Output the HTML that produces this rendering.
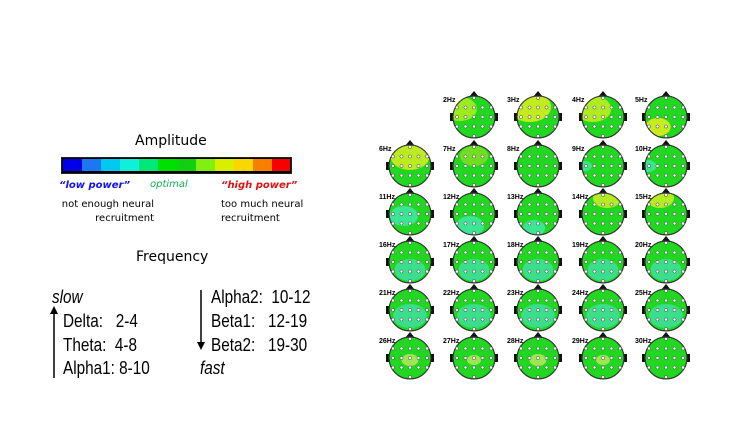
<!DOCTYPE html>
<html><head><meta charset="utf-8"><style>
body{margin:0;width:750px;height:422px;background:#fff;overflow:hidden;position:relative;font-family:"Liberation Sans",sans-serif}
.t{position:absolute;white-space:nowrap}
.c{font-family:"DejaVu Sans","Liberation Sans",sans-serif}
.f{font-size:18px;transform:scaleX(0.85);transform-origin:left center;line-height:20px}
</style></head><body>
<div class="t c" style="left:135px;top:133px;font-size:14px">Amplitude</div>
<div class="t" style="left:61px;top:157px;width:229px;height:15px;background:#000;border:1px solid #222"></div>
<div class="t" style="left:63px;top:159px;display:flex;height:12px">
<span style="width:19px;background:#0000e8"></span><span style="width:19px;background:#1b78f0"></span><span style="width:19px;background:#00c8f0"></span><span style="width:19px;background:#10f0d8"></span><span style="width:19px;background:#00e878"></span><span style="width:19px;background:#00e000"></span><span style="width:19px;background:#10d010"></span><span style="width:19px;background:#80f010"></span><span style="width:19px;background:#d8f000"></span><span style="width:19px;background:#f8d800"></span><span style="width:19px;background:#f88000"></span><span style="width:18px;background:#f80000"></span></div>
<div class="t c" style="left:59px;top:180px;font-size:10px;color:#1010f0;font-weight:bold;font-style:italic">“low power”</div>
<div class="t c" style="left:150px;top:179px;font-size:10px;color:#10b050;font-style:italic">optimal</div>
<div class="t c" style="left:221px;top:180px;font-size:10px;color:#e01010;font-weight:bold;font-style:italic">“high power”</div>
<div class="t c" style="left:30px;top:198px;font-size:10px;line-height:14px;text-align:right;width:124px">not enough neural<br>recruitment</div>
<div class="t c" style="left:221px;top:198px;font-size:10px;line-height:14px">too much neural<br>recruitment</div>
<div class="t c" style="left:136px;top:249px;font-size:14px">Frequency</div>
<div class="t f" style="left:52px;top:287px;font-style:italic">slow</div>
<div class="t f" style="left:63px;top:311px">Delta:&nbsp;&nbsp; 2-4</div>
<div class="t f" style="left:63px;top:335px">Theta:&nbsp; 4-8</div>
<div class="t f" style="left:63px;top:358px">Alpha1: 8-10</div>
<div class="t f" style="left:211px;top:287px">Alpha2:&nbsp; 10-12</div>
<div class="t f" style="left:211px;top:311px">Beta1:&nbsp;&nbsp; 12-19</div>
<div class="t f" style="left:211px;top:335px">Beta2:&nbsp;&nbsp; 19-30</div>
<div class="t f" style="left:200px;top:358px;font-style:italic">fast</div>
<svg class="t" style="left:0;top:0" width="750" height="422">
<line x1="54" y1="378" x2="54" y2="312" stroke="#000" stroke-width="1.5"/><polygon points="50,314 58,314 54,306" fill="#000"/>
<line x1="201" y1="290" x2="201" y2="344" stroke="#000" stroke-width="1.5"/><polygon points="197,342 205,342 201,350" fill="#000"/>
<g id="heads"></g>
</svg>
<script>
var g=document.getElementById('heads'),s='';
var cx=[410,474,538,603,666],cy=[117,166,214,262,310,358];
var yel={2:[[-14,-8,'#b0f020',12]],3:[[-8,-10,'#e0f020',15]],4:[[-10,-8,'#c8f020',13]],5:[[-8,10,'#e8f020',9]],6:[[0,-10,'#d8f020',14]],7:[[0,-10,'#80e020',10]],14:[[4,-16,'#d0f020',10]],15:[[-6,-16,'#d0f020',10]],26:[[0,2,'#b8e860',6]],27:[[0,2,'#b8e860',5]],28:[[0,2,'#b8e860',6]],29:[[0,2,'#b8e860',5]]};
var cyan={9:[[-18,0,'#40e8a0',5]],10:[[-18,0,'#40e8a0',6]],11:[[-6,2,'#40e8a8',10]],12:[[-4,12,'#40e8a8',10]],13:[[-4,14,'#40e8a8',8]],16:[[0,8,'#40e0a0',11]],17:[[0,8,'#40e0a0',11]],18:[[0,8,'#40e0a0',11]],19:[[0,8,'#40e0a0',11]],20:[[0,8,'#40e0a0',11]],21:[[0,6,'#40e0a0',12]],22:[[0,6,'#40e0a0',12]],23:[[0,6,'#40e0a0',12]],24:[[0,6,'#40e0a0',12]],25:[[0,6,'#40e0a0',12]]};
for(var hz=2;hz<=30;hz++){var i=hz-1,r=Math.floor(i/5),c=i%5,x=cx[c],y=cy[r],R=21;
s+='<clipPath id="k'+hz+'"><circle cx="'+x+'" cy="'+y+'" r="'+R+'"/></clipPath>';
s+='<rect x="'+(x-R-3)+'" y="'+(y-4)+'" width="'+(2*R+6)+'" height="8" fill="#111"/>';
s+='<polygon points="'+(x-5)+','+(y-R+1)+' '+(x+5)+','+(y-R+1)+' '+x+','+(y-R-5)+'" fill="#111"/>';
s+='<circle cx="'+x+'" cy="'+y+'" r="'+R+'" fill="#20d820" stroke="#333" stroke-width="1"/>';
s+='<g clip-path="url(#k'+hz+')">';
(yel[hz]||[]).concat(cyan[hz]||[]).forEach(function(p){s+='<ellipse cx="'+(x+p[0])+'" cy="'+(y+p[1])+'" rx="'+(p[3]*1.4)+'" ry="'+p[3]+'" fill="'+p[2]+'" opacity="0.85"/>';});
s+='</g><circle cx="'+x+'" cy="'+y+'" r="'+R+'" fill="none" stroke="#333" stroke-width="1"/>';
for(var a=-2;a<=2;a++)for(var b=-2;b<=2;b++){var dx=a*8.5,dy=b*9.5;if(dx*dx+dy*dy<R*R-10)s+='<circle cx="'+(x+dx)+'" cy="'+(y+dy)+'" r="1.6" fill="#fff" stroke="#333" stroke-width="0.5"/>';}
s+='<text x="'+(x-R-10)+'" y="'+(y-R+6)+'" font-size="7" font-weight="bold" font-family="Liberation Sans,sans-serif">'+hz+'Hz</text>';}
g.innerHTML=s;
</script>
</body></html>
